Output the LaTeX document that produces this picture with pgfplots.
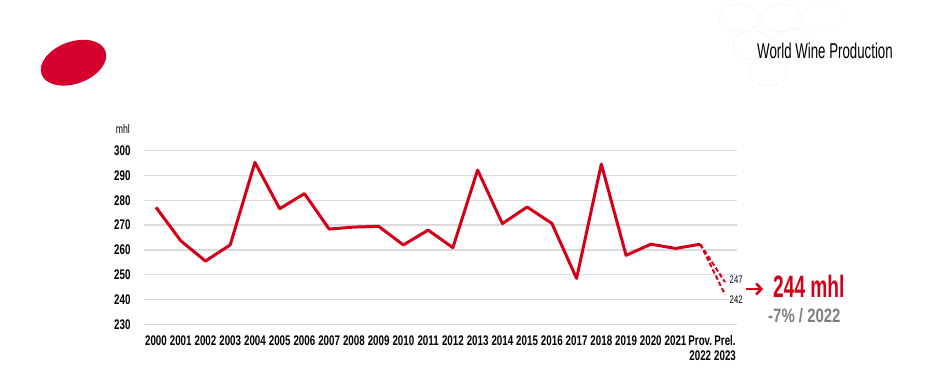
\documentclass[border=0pt]{standalone}
\usepackage{pgfplots}
\pgfplotsset{compat=1.18}
\usepackage{fontspec}
\setmainfont{Liberation Sans}
\newfontfamily\condA[FakeStretch=0.62]{Liberation Sans}
\newfontfamily\condB[FakeStretch=0.70]{Liberation Sans}
\newfontfamily\condC[FakeStretch=0.77]{Liberation Sans}
\usetikzlibrary{arrows.meta}
\definecolor{wred}{HTML}{D4001A}
\definecolor{ered}{HTML}{D6002E}
\definecolor{gridc}{HTML}{DADADA}
\definecolor{gtext}{HTML}{7F7F7F}
\definecolor{logoc}{HTML}{F0F0F0}
\begin{document}
\begin{tikzpicture}[x=1bp,y=1bp]
\path[use as bounding box] (0,0) rectangle (927,376);
% red ellipse
\fill[ered, rotate around={20:(73.5,313.3)}] (73.5,313.3) ellipse [x radius=34, y radius=21];
% faint grape logo
\begin{scope}[logoc, line width=0.5bp]
\draw (739,358) ellipse [x radius=20, y radius=14];
\draw (781,358) ellipse [x radius=20, y radius=14];
\draw[densely dotted] (823,358) ellipse [x radius=20, y radius=14];
\draw (753,331) ellipse [x radius=20, y radius=14];
\draw (794,333) ellipse [x radius=20, y radius=14];
\draw (768,304) ellipse [x radius=20, y radius=14];
\end{scope}
\node[anchor=base west, inner sep=0, font=\condA\fontsize{21.5}{22}\selectfont] at (757,318) {World Wine Production};
\begin{axis}[
  at={(143.6bp,51.7bp)}, anchor=south west,
  scale only axis, width=593.8bp, height=173.6bp,
  xmin=-0.5, xmax=23.5, ymin=230, ymax=300,
  axis line style={draw=none},
  major tick length=0pt,
  ytick={230,240,...,300},
  ymajorgrids, grid style={gridc, line width=1.3bp},
  xtick={0,...,23},
  xticklabels={2000,2001,2002,2003,2004,2005,2006,2007,2008,2009,2010,2011,2012,2013,2014,2015,2016,2017,2018,2019,2020,2021,{Prov.\\2022},{Prel.\\2023}},
  xticklabel style={anchor=north, yshift=-8bp, align=center, font=\condB\bfseries\fontsize{14}{15}\selectfont},
  yticklabel style={anchor=east, xshift=-9.6bp, font=\condB\bfseries\fontsize{14}{15}\selectfont},
  /pgf/number format/assume math mode=true,
  clip=false,
]
\addplot[wred, line width=3bp, line join=round] coordinates {
(0,277.2) (1,263.7) (2,255.5) (3,262.0) (4,295.3) (5,276.6) (6,282.7) (7,268.4)
(8,269.2) (9,269.5) (10,262.0) (11,268.0) (12,260.9) (13,292.2) (14,270.6)
(15,277.3) (16,270.7) (17,248.5) (18,294.6) (19,257.8) (20,262.3) (21,260.6) (22,262.3)};
\addplot[wred, line width=2bp, dash pattern=on 4.5bp off 2.5bp] coordinates {(22,262.3) (23,247)};
\addplot[wred, line width=2bp, dash pattern=on 4.5bp off 2.5bp] coordinates {(22,262.3) (23,242)};
\node[anchor=west, inner sep=0, xshift=4.5bp, font=\condB\fontsize{11}{12}\selectfont, text=black!80!blue] at (axis cs:23,247.8) {247};
\node[anchor=west, inner sep=0, xshift=4.5bp, font=\condB\fontsize{11}{12}\selectfont] at (axis cs:23,240.0) {242};
\end{axis}
\node[anchor=base east, inner sep=0, font=\condB\fontsize{12.5}{13}\selectfont] at (130,243) {mhl};
\draw[wred, line width=2.6bp, -{Straight Barb[length=5bp,width=11bp]}] (746,87) -- (763,87);
\node[anchor=base west, inner sep=0, text=wred, font=\condA\bfseries\fontsize{31}{32}\selectfont] at (773,79) {244 mhl};
\node[anchor=base west, inner sep=0, text=gtext, font=\condC\bfseries\fontsize{19.5}{20}\selectfont] at (768,54) {-7\% / 2022};
\end{tikzpicture}
\end{document}
